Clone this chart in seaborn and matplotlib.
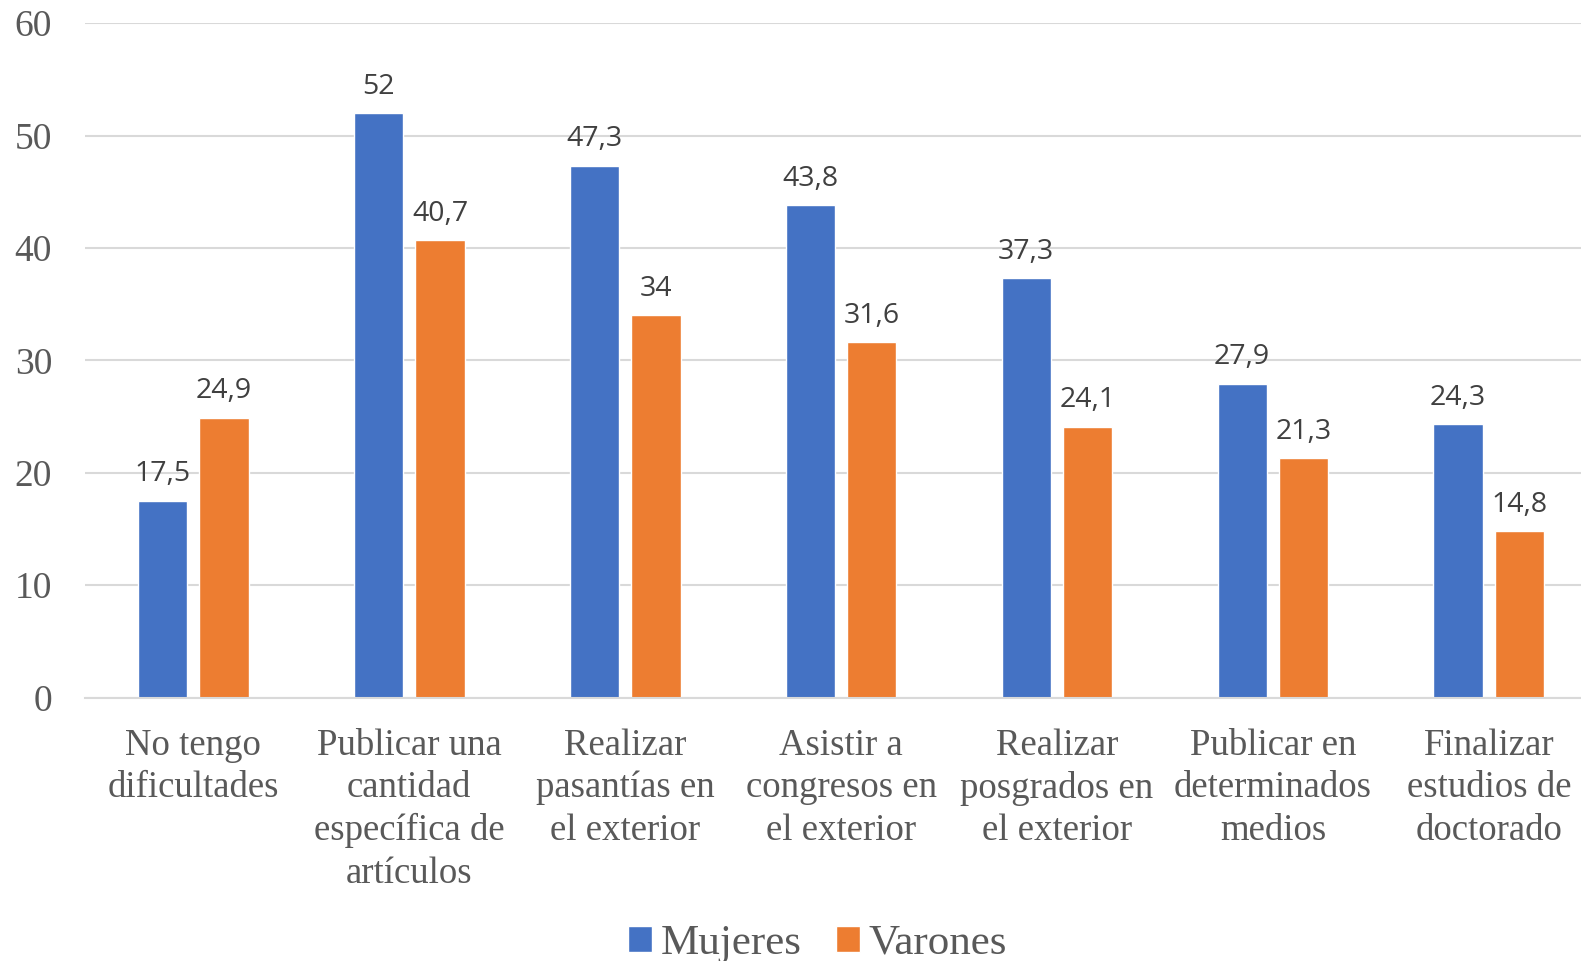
import pandas as pd
import seaborn as sns
import matplotlib.pyplot as plt

# Data
categories = ["No tengo\ndificultades",
              "Publicar una\ncantidad\nespecífica de\nartículos",
              "Realizar\npasantías en\nel exterior",
              "Asistir a\ncongresos en\nel exterior",
              "Realizar\nposgrados en\nel exterior",
              "Publicar en\ndeterminados\nmedios",
              "Finalizar\nestudios de\ndoctorado"]
mujeres = [17.5, 52, 47.3, 43.8, 37.3, 27.9, 24.3]
varones = [24.9, 40.7, 34, 31.6, 24.1, 21.3, 14.8]
series = ["Mujeres", "Varones"]
colors = ["#4472C4", "#ED7D31"]

df = pd.DataFrame({"categoria": categories * 2,
                   "serie": [series[0]] * len(categories) + [series[1]] * len(categories),
                   "valor": mujeres + varones})

sns.set_style("white")
plt.rcParams['font.family'] = ['Liberation Serif', 'DejaVu Serif']

fig = plt.figure(figsize=(15.81, 9.61), dpi=100)
# axes runs a little past the right edge, as in the original
ax = fig.add_axes([0.054, 0.274, 0.956, 0.702])

sns.barplot(data=df, x="categoria", y="valor", hue="serie", palette=colors,
            width=0.57, gap=0.2, saturation=1, ax=ax, errorbar=None)

ax.set_ylim(0, 60)
ax.set_xlim(-0.5, len(categories) - 0.5)
ax.set_yticks(range(0, 61, 10))
ax.yaxis.grid(True, color="#D9D9D9", linewidth=1.5)
ax.set_axisbelow(True)
for s in ["left", "right", "top"]:
    ax.spines[s].set_visible(False)
ax.spines["bottom"].set_color("#D9D9D9")
ax.spines["bottom"].set_linewidth(1.5)
ax.set_xlabel("")
ax.set_ylabel("")
ax.tick_params(axis="y", length=0, pad=24, labelsize=27, labelcolor="#595959")
ax.tick_params(axis="x", length=0, pad=22, labelsize=26.5, labelcolor="#595959")
for t in ax.get_xticklabels():
    t.set_linespacing(1.3)

# Value labels
for cont in ax.containers:
    labels = [f"{b.get_height():g}".replace(".", ",") for b in cont]
    ax.bar_label(cont, labels=labels, padding=9, fontsize=20.5,
                 color="#404040", family=["Open Sans", "DejaVu Sans"])

ax.legend(loc="center", bbox_to_anchor=(0.517, 0.018), bbox_transform=fig.transFigure,
          ncol=2, frameon=False, fontsize=31, labelcolor="#595959",
          handlelength=0.55, handleheight=0.55, handletextpad=0.2, columnspacing=0.8)

fig.savefig("out.png", dpi=100)
